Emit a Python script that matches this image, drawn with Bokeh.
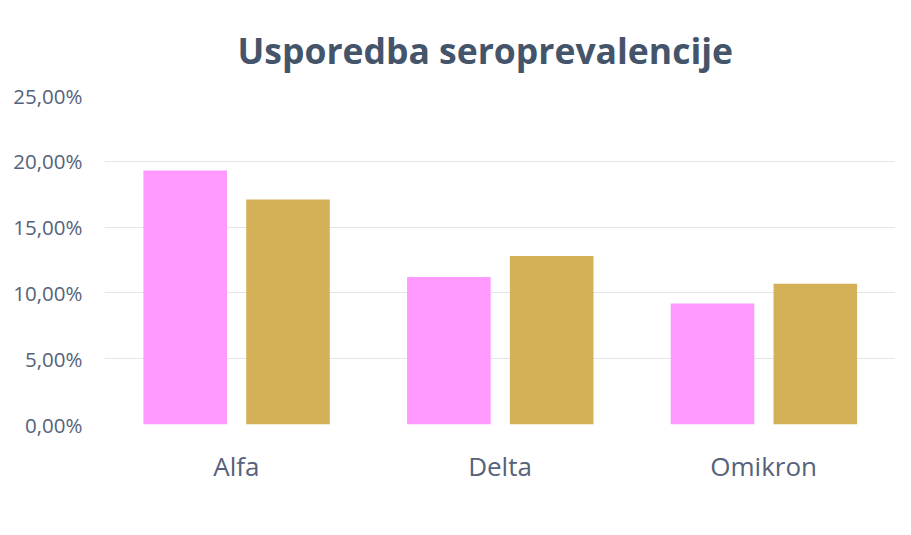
from bokeh.plotting import figure
from bokeh.models import FactorRange, Range1d, FixedTicker, Legend, LegendItem, ColumnDataSource
from bokeh.transform import dodge
from bokeh.embed import file_html
from bokeh.resources import INLINE

categories = ["Alfa", "Delta", "Omikron"]
series_names = ["PSI", "MAČKE"]
psi = [19.3, 11.2, 9.2]
macke = [17.1, 12.8, 10.7]
y_ticks = [0, 5, 10, 15, 20, 25]
y_tick_labels = ["0,00%", "5,00%", "10,00%", "15,00%", "20,00%", "25,00%"]
title_text = "Usporedba seroprevalencije"
colors = ["#FF99FF", "#D4B056"]

FONT = "Open Sans"
TEXT_COL = "#56627A"

src = ColumnDataSource(dict(cat=categories, psi=psi, macke=macke))

p = figure(frame_width=791, frame_height=329,
           x_range=FactorRange(factors=categories, range_padding=0),
           y_range=Range1d(0, 25),
           output_backend="svg", toolbar_location=None,
           min_border_left=104, min_border_right=0,
           min_border_top=95, min_border_bottom=0,
           title=title_text)

r1 = p.vbar(x=dodge("cat", -0.194, range=p.x_range), top="psi", width=0.317,
            source=src, fill_color=colors[0], line_color=None)
r2 = p.vbar(x=dodge("cat", 0.196, range=p.x_range), top="macke", width=0.317,
            source=src, fill_color=colors[1], line_color=None)

p.title.align = "left"
p.title.offset = 133
p.title.standoff = 40
p.title.vertical_align = "top"
p.title.text_font = FONT
p.title.text_font_size = "35.5px"
p.title.text_font_style = "bold"
p.title.text_color = "#44546A"

p.outline_line_color = None
p.xgrid.grid_line_color = None
p.ygrid.ticker = FixedTicker(ticks=y_ticks)
p.ygrid.grid_line_color = "#E3E6EB"
p.ygrid.grid_line_width = 1

p.yaxis.ticker = FixedTicker(ticks=y_ticks)
p.yaxis.major_label_overrides = dict(zip(y_ticks, y_tick_labels))
p.yaxis.axis_line_color = None
p.yaxis.major_tick_line_color = None
p.yaxis.minor_tick_line_color = None
p.yaxis.major_label_standoff = 16
p.yaxis.major_label_text_font = FONT
p.yaxis.major_label_text_font_size = "20.5px"
p.yaxis.major_label_text_color = TEXT_COL

p.xaxis.axis_line_color = None
p.xaxis.major_tick_line_color = None
p.xaxis.minor_tick_line_color = None
p.xaxis.major_label_standoff = 17
p.xaxis.major_label_text_font = FONT
p.xaxis.major_label_text_font_size = "26px"
p.xaxis.major_label_text_color = TEXT_COL

legend = Legend(items=[LegendItem(label=series_names[0], renderers=[r1]),
                       LegendItem(label=series_names[1], renderers=[r2])],
                orientation="horizontal", location="center",
                border_line_color=None, background_fill_alpha=0,
                padding=0, margin=12, spacing=30, label_standoff=7,
                glyph_width=14, glyph_height=14,
                label_text_font=FONT, label_text_font_size="22px",
                label_text_color=TEXT_COL)
p.add_layout(legend, "below")

open("out.html", "w").write(file_html(p, INLINE))
